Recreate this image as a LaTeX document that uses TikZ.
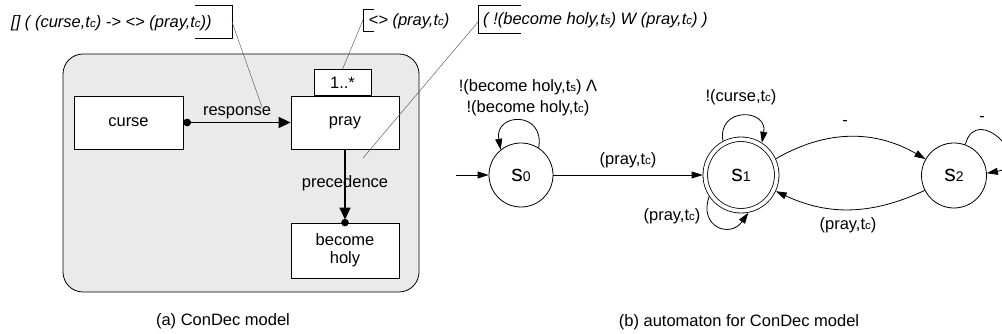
\documentclass[tikz,border=0pt]{standalone}
\usepackage{fontspec}
\setmainfont{Liberation Sans}
\usetikzlibrary{arrows.meta}
\newcommand\tsub[1]{{\fontsize{11.5}{12}\selectfont #1}}
\newcommand\ssub[1]{{\fontsize{14}{14}\selectfont #1}}
\definecolor{panel}{HTML}{EAEAEA}
\definecolor{notegray}{HTML}{555555}
\begin{document}
\begin{tikzpicture}[x=1pt,y=1pt,
  font=\fontsize{16.5}{20}\selectfont,
  box/.style={draw, line width=0.8pt, fill=white, inner sep=0pt, align=center},
  state/.style={draw, circle, line width=0.8pt, inner sep=0pt, font=\fontsize{23}{23}\selectfont},
  aedge/.style={line width=0.8pt, -{Triangle[length=11pt,width=7pt]}},
  cedge/.style={line width=1.6pt},
  bracket/.style={line width=0.8pt},
  notec/.style={line width=0.45pt, notegray},
  note/.style={font=\fontsize{16.5}{20}\selectfont\itshape, inner sep=0pt}]
\useasboundingbox (0,0) rectangle (1002,334);
\clip (0,0) rectangle (1002,334);

% ---------- (a) ConDec model ----------
\draw[line width=0.8pt, fill=panel, rounded corners=20pt] (63,42) rectangle (419,280);
\node[box, minimum width=109pt, minimum height=53pt] (curse) at (128.5,211.5) {curse};
\node[box, minimum width=108pt, minimum height=53pt] (pray) at (345,211.5) {pray};
\node[box, minimum width=57pt, minimum height=26pt, anchor=south] (mult) at (342.5,238) {1..*};
\node[box, minimum width=108pt, minimum height=55pt] (holy) at (345,83.5) {become\\[-2pt]holy};

\draw[cedge, {Circle[length=7.6pt]}-{Triangle[length=12pt,width=11pt]}] (curse.east) -- (pray.west)
  node[midway, yshift=10pt, font=\fontsize{16.5}{20}\selectfont] (resp) {response};
\draw[cedge, -{Triangle[length=12pt,width=11pt]}, shorten >=3pt] (pray.south) -- (holy.north)
  node[midway, yshift=3pt] (prec) {precedence};
\fill (holy.north) circle (3.8pt);

% notes
\node[note, anchor=west] (f1) at (11,311) {[] ( (curse,t\tsub{c}) -> <> (pray,t\tsub{c}))};
\draw[bracket] (195,328.3) -- (232,328.3) -- (232,296) -- (195,296);
\coordinate (f1c) at (232,312);
\coordinate (f1e) at (262,227);
\draw[notec] (f1c) -- (f1e);

\node[note, anchor=west] (f2) at (368.5,312.3) {<> (pray,t\tsub{c})};
\draw[bracket] (374,324.7) -- (363,324.7) -- (363,302.3) -- (374,302.3);
\coordinate (f2c) at (363,314);
\draw[notec] (f2c) -- (mult.north);

\node[note, anchor=west] (f3) at (483,314) {( !(become holy,t\tsub{s}) W (pray,t\tsub{c}) )};
\draw[bracket] (521,329) -- (478,329) -- (478,301) -- (521,301);
\coordinate (f3c) at (478,312);
\coordinate (f3e) at (363,176);
\draw[notec] (f3c) -- (f3e);

\node (capa) at (223,12.3) {(a) ConDec model};

% ---------- (b) automaton ----------
\node[state, minimum size=64pt] (s0) at (521,159) {s\ssub{0}};
\node[state, minimum size=71.5pt, double, double distance=3.7pt, outer sep=2.65pt] (s1) at (741,159) {s\ssub{1}};
\node[state, minimum size=65pt] (s2) at (954,158.5) {s\ssub{2}};
\coordinate (init) at (456,159);

\draw[aedge] (init) -- (s0.west);
\draw[aedge] (s0.east) -- (s1.west) node[midway, yshift=15pt] (l01) {(pray,t\tsub{c})};

\draw[aedge] (s0.57) .. controls +(80:38) and +(100:38) .. (s0.129);
\node[align=center] (l00) at (528,236.7) {!(become holy,t\tsub{s}) Λ\\[1pt]!(become holy,t\tsub{c})};

\draw[aedge] (s1.118) .. controls +(100:35) and +(80:35) .. (s1.57);
\node (l11a) at (741,237) {!(curse,t\tsub{c})};

\draw[aedge] (s1.214) .. controls +(250:32) and +(235:32) .. (s1.281);
\node (l11b) at (672,117.3) {(pray,t\tsub{c})};

\draw[aedge] (s1.25) to[out=30, in=150] (s2.150);
\node (l12) at (845,211) {-};
\draw[aedge] (s2.207) to[out=205, in=-25] (s1.335);
\node (l21) at (848,109) {(pray,t\tsub{c})};

\draw[aedge] (s2.70) .. controls +(75:45) and +(10:50) .. (s2.4);
\node (l22) at (982,215) {-};

\node (capb) at (739,12) {(b) automaton for ConDec model};
\end{tikzpicture}
\end{document}
